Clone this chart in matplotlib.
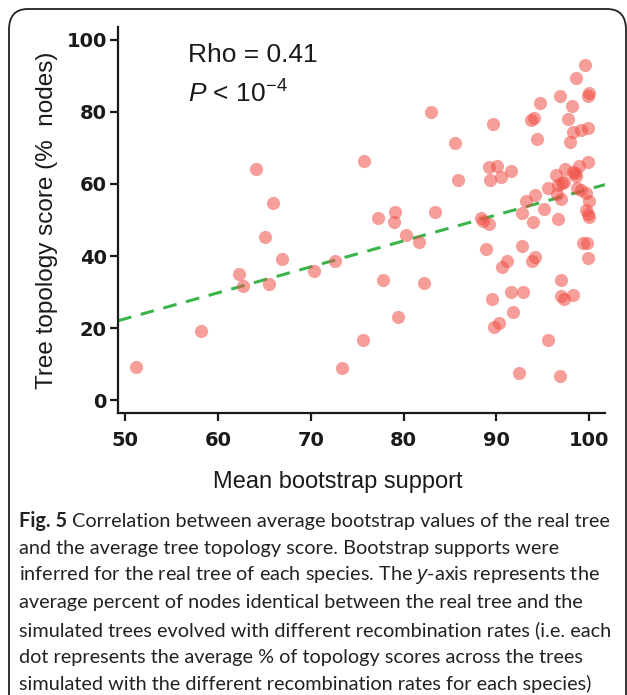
import matplotlib
matplotlib.use("Agg")
from matplotlib import pyplot as plt
from matplotlib.patches import FancyBboxPatch
import numpy as np

# mean bootstrap support (x) and tree topology score (y) per species
bootstrap = [99.5, 98.6, 100.0, 99.9, 94.7, 96.8, 98.1, 82.9, 94.0, 93.7,
             97.7, 89.6, 98.2, 99.1, 99.9, 94.4, 97.9, 85.5, 75.7, 99.9,
             89.2, 90.1, 91.6, 98.9, 97.4, 98.3, 98.6, 96.4, 89.3, 90.5,
             85.8, 97.3, 96.6, 95.6, 98.7, 99.7, 99.1, 100.0, 94.2, 93.2,
             97.0, 96.5, 95.1, 92.7, 77.2, 79.1, 79.0, 83.4, 88.3, 88.5,
             89.2, 93.9, 96.6, 99.7, 99.9, 100.0, 80.2, 81.7, 99.3, 99.8,
             88.9, 92.7, 70.3, 72.6, 77.8, 82.2, 90.6, 91.1, 93.8, 94.2,
             99.9, 97.0, 89.5, 91.6, 92.9, 97.0, 97.3, 98.2, 91.8, 89.7,
             90.3, 95.6, 79.4, 75.6, 73.3, 92.4, 96.9, 51.1, 58.2, 62.2,
             62.7, 65.5, 65.1, 66.9, 64.1, 65.9, 97.1, 98.5]
topology = [93.0, 89.5, 85.3, 84.3, 82.6, 84.3, 81.7, 80.1, 78.2, 77.9,
            78.1, 76.8, 74.4, 74.9, 75.5, 72.5, 71.8, 71.5, 66.5, 66.0,
            64.8, 64.9, 63.7, 65.1, 64.3, 63.4, 62.3, 62.6, 61.0, 62.0,
            61.0, 60.6, 59.6, 58.9, 59.0, 57.6, 58.3, 55.3, 56.9, 55.2,
            55.7, 57.1, 53.1, 52.0, 50.6, 52.3, 49.4, 52.3, 50.6, 49.6,
            48.8, 49.4, 50.2, 52.8, 51.8, 50.7, 45.7, 43.8, 43.7, 43.7,
            41.9, 42.9, 35.9, 38.6, 33.3, 32.4, 36.9, 38.6, 38.6, 39.8,
            39.4, 33.2, 28.1, 30.1, 30.1, 29.0, 28.1, 29.2, 24.4, 20.4,
            21.3, 16.6, 23.0, 16.7, 8.8, 7.4, 6.7, 9.3, 19.3, 34.9,
            31.8, 32.2, 45.4, 39.1, 64.2, 54.6, 60.4, 63.0]

# fitted trend line
fit_slope = 0.72
fit_intercept = -13.4

x_ticks = [50, 60, 70, 80, 90, 100]
y_ticks = [0, 20, 40, 60, 80, 100]

caption_first = "Correlation between average bootstrap values of the real tree"
caption = [
    "and the average tree topology score. Bootstrap supports were",
    "inferred for the real tree of each species. The $\\mathit{y}$-axis represents the",
    "average percent of nodes identical between the real tree and the",
    "simulated trees evolved with different recombination rates (i.e. each",
    "dot represents the average % of topology scores across the trees",
    "simulated with the different recombination rates for each species)",
]

plt.rcParams['font.family'] = ['Liberation Sans', 'DejaVu Sans']
plt.rcParams['mathtext.fontset'] = 'custom'
plt.rcParams['mathtext.rm'] = 'Liberation Sans'
plt.rcParams['mathtext.it'] = 'Liberation Sans:italic'

fig = plt.figure(figsize=(6.27, 6.95), dpi=100)

# rounded frame around the figure panel
frame = FancyBboxPatch((9 / 627, -0.2), 617 / 627, 1.2 - 9 / 695,
                       boxstyle="round,pad=0,rounding_size=0.03",
                       transform=fig.transFigure, fill=False,
                       edgecolor="#222222", linewidth=1.3)
fig.patches.append(frame)

ax = fig.add_axes([118 / 627, 282 / 695, 487 / 627, 386 / 695])

xs = np.array([49.2, 101.7])
ax.plot(xs, fit_intercept + fit_slope * xs, color="#3BB44A", linewidth=2.2,
        linestyle=(0, (4.5, 3.2)), zorder=1)
ax.scatter(bootstrap, topology, s=90, color="#F04E45", alpha=0.55,
           linewidths=0, zorder=2)

ax.set_xlim(49.2, 101.7)
ax.set_ylim(-3.6, 103.6)
ax.set_xticks(x_ticks)
ax.set_yticks(y_ticks)
ax.spines['top'].set_visible(False)
ax.spines['right'].set_visible(False)
for side in ['left', 'bottom']:
    ax.spines[side].set_linewidth(1.6)
    ax.spines[side].set_color("#1a1a1a")
ax.tick_params(length=6, width=1.6, color="#1a1a1a", labelsize=14,
               labelcolor="#1a1a1a")
ax.tick_params(axis='x', pad=7)
ax.tick_params(axis='y', pad=2)
for lab in ax.get_xticklabels() + ax.get_yticklabels():
    lab.set_fontweight('bold')
    lab.set_family('DejaVu Sans')

ax.set_xlabel("Mean bootstrap support", fontsize=17, color="#1a1a1a",
              labelpad=15)
ax.xaxis.label.set_x((338 - 118) / 487)
ax.set_ylabel("Tree topology score (%  nodes)", fontsize=17.5, color="#1a1a1a",
              labelpad=6)

ax.text(56.7, 95.8, "Rho = 0.41", fontsize=19, color="#1a1a1a", va='center')
ax.text(56.7, 85.0, r"$P$ < 10$^{\mathrm{-4}}$", fontsize=19,
        color="#1a1a1a", va='center')

# figure caption
cap_size = 14.3
y0 = 1 - 521 / 695
step = 27.2 / 695
fig_label = fig.text(19 / 627, y0, "Fig. 5", fontsize=cap_size,
                     fontweight='bold', color="#222222", va='center',
                     family='Lato')
fig.canvas.draw()
bb = fig_label.get_window_extent().transformed(fig.transFigure.inverted())
fig.text(bb.x1 + 5 / 627, y0, caption_first, fontsize=cap_size,
         color="#222222", va='center', family='Lato')
for i, line in enumerate(caption, start=1):
    fig.text(19 / 627, y0 - i * step, line, fontsize=cap_size,
             color="#222222", va='center', family='Lato')

plt.savefig("out.png", dpi=100)
